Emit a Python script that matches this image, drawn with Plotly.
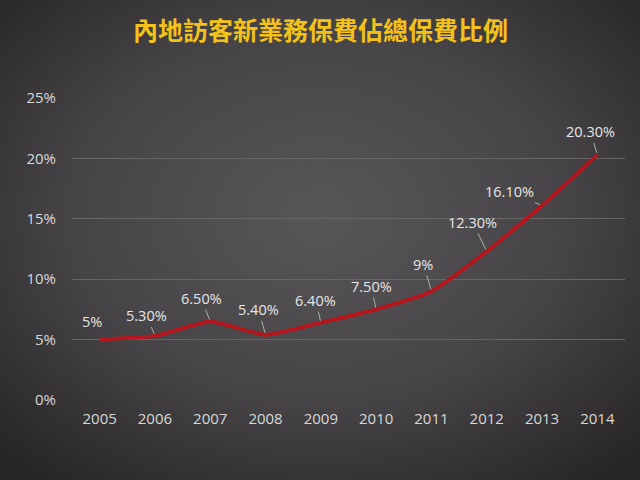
import base64
import plotly.graph_objects as go

years = [2005, 2006, 2007, 2008, 2009, 2010, 2011, 2012, 2013, 2014]
values = [5.0, 5.3, 6.5, 5.4, 6.4, 7.5, 9.0, 12.3, 16.1, 20.3]
labels = ["5%", "5.30%", "6.50%", "5.40%", "6.40%", "7.50%", "9%", "12.30%", "16.10%", "20.30%"]
y_ticks = [0, 5, 10, 15, 20, 25]
y_tick_text = ["0%", "5%", "10%", "15%", "20%", "25%"]
title = "內地訪客新業務保費佔總保費比例"

# label offsets (pixels) from data point: (ax, ay, show leader)
label_offsets = [(-8, -18, False), (-8, -20, True), (-9, -23, True), (-7, -25, True),
                 (-5, -22, True), (-5, -23, True), (-8, -27, True), (-14, -29, True),
                 (-33, -14, True), (-7, -23, True)]

svg = """<svg xmlns='http://www.w3.org/2000/svg' width='640' height='480'>
<defs><radialGradient id='g' cx='50%' cy='45%' r='70%'>
<stop offset='0%' stop-color='#585658'/>
<stop offset='55%' stop-color='#464446'/>
<stop offset='100%' stop-color='#272526'/>
</radialGradient></defs>
<rect width='640' height='480' fill='url(#g)'/></svg>"""
bg_uri = "data:image/svg+xml;base64," + base64.b64encode(svg.encode()).decode()

fig = go.Figure()
fig.add_trace(go.Scatter(
    x=[int(y) for y in years], y=[float(v) for v in values], mode="lines",
    line=dict(color="#b5161d", width=3.8, shape="spline", smoothing=0.5),
    hoverinfo="skip", showlegend=False,
))

annotations = []
for x, v, lab, (ax, ay, lead) in zip(years, values, labels, label_offsets):
    annotations.append(dict(
        x=x, y=v, xref="x", yref="y", text=lab,
        showarrow=True, arrowhead=0, arrowwidth=1,
        arrowcolor="rgba(200,200,200,0.8)" if lead else "rgba(0,0,0,0)",
        ax=ax, ay=ay, standoff=2,
        font=dict(family="Open Sans, DejaVu Sans", size=14.5, color="#e6e6e6"),
    ))

annotations.append(dict(
    x=(320 - 72) / 553, y=1 + (98 - 29) / 302, xref="paper", yref="paper",
    text="<b>" + title + "</b>", showarrow=False, xanchor="center", yanchor="middle",
    font=dict(family="Noto Sans CJK TC", size=25, color="#f3c21a"),
))

fig.update_layout(
    width=640, height=480,
    margin=dict(l=72, r=15, t=98, b=80),
    paper_bgcolor="#3a3839", plot_bgcolor="rgba(0,0,0,0)",
    images=[dict(source=bg_uri, xref="paper", yref="paper", x=-72/553, y=1 + 98/302,
                 sizex=640/553, sizey=480/302, xanchor="left", yanchor="top",
                 sizing="stretch", layer="below")],
    annotations=annotations,
    xaxis=dict(
        type="linear", range=[2004.5, 2014.5],
        tickmode="array", tickvals=list(years), ticktext=[str(y) for y in years],
        showgrid=False, zeroline=False, showline=False,
        tickfont=dict(family="Open Sans, DejaVu Sans", size=15, color="#d8d8d8"),
        ticks="outside", ticklen=5, tickcolor="rgba(0,0,0,0)",
    ),
    yaxis=dict(
        type="linear", range=[0, 25],
        tickmode="array", tickvals=y_ticks, ticktext=y_tick_text,
        showgrid=True, gridcolor="#676568", gridwidth=1, zeroline=False,
        tickfont=dict(family="Open Sans, DejaVu Sans", size=15, color="#d8d8d8"),
        ticks="outside", ticklen=12, tickcolor="rgba(0,0,0,0)",
    ),
    showlegend=False,
)

fig.write_html("out.html")
